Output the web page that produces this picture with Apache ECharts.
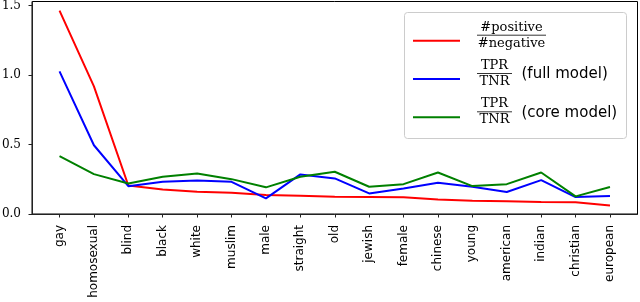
<!DOCTYPE html>
<html><head><meta charset="utf-8">
<script src="https://cdn.jsdelivr.net/npm/echarts@6/dist/echarts.min.js"></script>
<style>html,body{margin:0;padding:0;background:#fff}#c{width:640px;height:302px}</style>
</head><body><div id="c"></div>
<script>
const categories = ['gay','homosexual','blind','black','white','muslim','male','straight','old','jewish','female','chinese','young','american','indian','christian','european'];
const posNeg = [1.464,0.919,0.205,0.177,0.160,0.153,0.136,0.131,0.124,0.122,0.120,0.105,0.095,0.091,0.086,0.084,0.062];
const fullModel = [1.027,0.495,0.200,0.232,0.242,0.232,0.113,0.285,0.256,0.148,0.184,0.225,0.196,0.158,0.244,0.122,0.129];
const coreModel = [0.416,0.287,0.220,0.268,0.292,0.251,0.192,0.268,0.304,0.196,0.215,0.299,0.201,0.215,0.299,0.127,0.194];
const yTicks = [0, 0.5, 1.0, 1.5];

const chart = echarts.init(document.getElementById('c'), null, {renderer:'canvas'});
const pos = categories.map((_, i) => i + 1);
const pair = arr => arr.map((v, i) => [pos[i], v]);
const serif = '"DejaVu Serif", serif';
const sans = '"DejaVu Sans", sans-serif';

function legendGraphics() {
  const g = [];
  g.push({type:'rect', shape:{x:404.5, y:12.5, width:222, height:126, r:3},
    style:{fill:'rgba(255,255,255,0.85)', stroke:'#cccccc', lineWidth:1}, z:100});
  const rows = [
    {y:40.7, color:'#ff0000', num:'#positive', den:'#negative', extra:'', bar:[477,546]},
    {y:79, color:'#0000ff', num:'TPR', den:'TNR', extra:'(full model)', bar:[477,512]},
    {y:117.3, color:'#008000', num:'TPR', den:'TNR', extra:'(core model)', bar:[477,512]}
  ];
  rows.forEach(r => {
    g.push({type:'line', shape:{x1:413, y1:r.y, x2:460, y2:r.y}, style:{stroke:r.color, lineWidth:2}, z:101});
    const cx = (r.bar[0] + r.bar[1]) / 2;
    const barY = r.y - 5.5;
    g.push({type:'line', shape:{x1:r.bar[0], y1:barY, x2:r.bar[1], y2:barY}, style:{stroke:'#000', lineWidth:0.8}, z:101});
    g.push({type:'text', x:cx, y:barY - 1.5, style:{text:r.num, font:'13px ' + serif, fill:'#000', align:'center', verticalAlign:'bottom'}, z:101});
    g.push({type:'text', x:cx, y:barY + 1.5, style:{text:r.den, font:'13px ' + serif, fill:'#000', align:'center', verticalAlign:'top'}, z:101});
    if (r.extra) {
      g.push({type:'text', x:521.5, y:barY + 1, style:{text:r.extra, font:'15px ' + sans, fill:'#000', align:'left', verticalAlign:'middle'}, z:101});
    }
  });
  return g;
}

chart.setOption({
  animation:false,
  grid:{left:32, right:2.5, top:1.5, bottom:88, containLabel:false, outerBoundsMode:'none',
    show:true, borderColor:'#000', borderWidth:1, backgroundColor:'transparent'},
  xAxis:{type:'value', min:0.2, max:17.8,
    axisLine:{show:true, onZero:false, lineStyle:{color:'#222', width:1}},
    axisTick:{show:true, length:3.5, customValues:pos, lineStyle:{color:'#222'}},
    axisLabel:{show:true, customValues:pos, rotate:90, margin:11, fontFamily:'DejaVu Sans', fontSize:12, color:'#000',
      formatter: v => categories[Math.round(v) - 1] ?? ''},
    splitLine:{show:false}},
  yAxis:{type:'value', min:0, max:1.53,
    axisLine:{show:true, onZero:false, lineStyle:{color:'#222', width:1}},
    axisTick:{show:true, length:3.5, customValues:yTicks, lineStyle:{color:'#222'}},
    axisLabel:{show:true, customValues:yTicks, margin:11, fontFamily:'DejaVu Serif', fontSize:12, color:'#000',
      formatter: v => v.toFixed(1)},
    splitLine:{show:false}},
  series:[
    {type:'line', data:pair(posNeg), showSymbol:false, symbol:'none', lineStyle:{color:'#ff0000', width:2}, itemStyle:{color:'#ff0000'}, z:3},
    {type:'line', data:pair(fullModel), showSymbol:false, symbol:'none', lineStyle:{color:'#0000ff', width:2}, itemStyle:{color:'#0000ff'}, z:4},
    {type:'line', data:pair(coreModel), showSymbol:false, symbol:'none', lineStyle:{color:'#008000', width:2}, itemStyle:{color:'#008000'}, z:5}
  ],
  graphic: legendGraphics()
});
</script></body></html>
